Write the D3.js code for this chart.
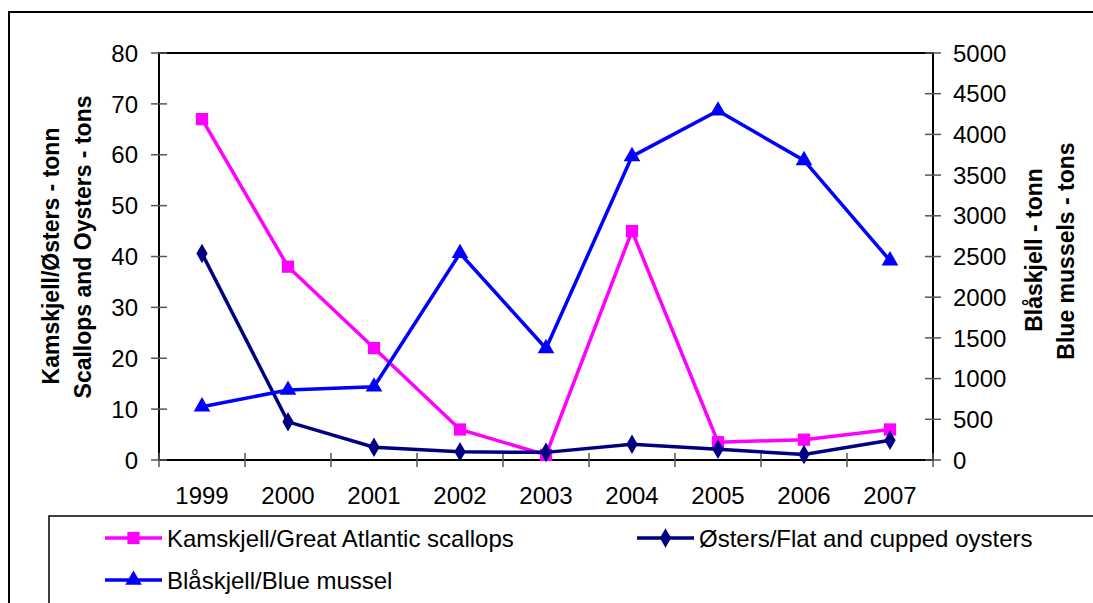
<!DOCTYPE html>
<html>
<head>
<meta charset="utf-8">
<script src="https://cdn.jsdelivr.net/npm/d3@7"></script>
<style>
  body { margin: 0; background: #fff; }
  text { font-family: "Liberation Sans", Arial, sans-serif; fill: #000; }
</style>
</head>
<body>
<div id="chart"></div>
<script>
const years = ['1999', '2000', '2001', '2002', '2003', '2004', '2005', '2006', '2007'];
const scallops = [67, 38, 22, 6, 1, 45, 3.5, 4, 6];
const oysters = [40.6, 7.5, 2.5, 1.6, 1.5, 3.1, 2.1, 1.1, 3.9];
const mussels = [655, 860, 900, 2540, 1370, 3730, 4290, 3680, 2450];
const leftTicks = [0, 10, 20, 30, 40, 50, 60, 70, 80];
const rightTicks = [0, 500, 1000, 1500, 2000, 2500, 3000, 3500, 4000, 4500, 5000];

const width = 1093, height = 603;
const plot = {left: 159, right: 933, top: 53, bottom: 460};

const svg = d3.select('#chart').append('svg')
  .attr('width', width)
  .attr('height', height);

// outer frame (only top and left edges fall inside the picture)
svg.append('path')
  .attr('d', 'M9,' + height + ' V12 H' + width)
  .attr('fill', 'none')
  .attr('stroke', '#000')
  .attr('stroke-width', 2);

const x = d3.scaleBand().domain(years).range([plot.left, plot.right]);
const yL = d3.scaleLinear().domain([0, 80]).range([plot.bottom, plot.top]);
const yR = d3.scaleLinear().domain([0, 5000]).range([plot.bottom, plot.top]);

// plot frame
svg.append('rect')
  .attr('x', plot.left).attr('y', plot.top)
  .attr('width', plot.right - plot.left).attr('height', plot.bottom - plot.top)
  .attr('fill', 'none').attr('stroke', '#000').attr('stroke-width', 2);

// left axis ticks and labels
const gl = svg.append('g');
gl.selectAll('line').data(leftTicks).join('line')
  .attr('x1', plot.left - 8).attr('x2', plot.left + 8)
  .attr('y1', d => yL(d)).attr('y2', d => yL(d))
  .attr('stroke', '#555').attr('stroke-width', 1.5);
gl.selectAll('text').data(leftTicks).join('text')
  .attr('x', 138).attr('y', d => yL(d)).attr('dy', '0.36em')
  .attr('text-anchor', 'end').attr('font-size', 24)
  .text(d => d);

// right axis ticks and labels
const gr = svg.append('g');
gr.selectAll('line').data(rightTicks).join('line')
  .attr('x1', plot.right - 8).attr('x2', plot.right + 8)
  .attr('y1', d => yR(d)).attr('y2', d => yR(d))
  .attr('stroke', '#555').attr('stroke-width', 1.5);
gr.selectAll('text').data(rightTicks).join('text')
  .attr('x', 953).attr('y', d => yR(d)).attr('dy', '0.36em')
  .attr('text-anchor', 'start').attr('font-size', 24)
  .text(d => d);

// x axis ticks at category boundaries and labels
const bounds = years.map(d => x(d)).concat([plot.right]);
svg.append('g').selectAll('line').data(bounds).join('line')
  .attr('x1', d => d).attr('x2', d => d)
  .attr('y1', plot.bottom - 7).attr('y2', plot.bottom + 7)
  .attr('stroke', '#555').attr('stroke-width', 1.5);
svg.append('g').selectAll('text').data(years).join('text')
  .attr('x', d => x(d) + x.bandwidth() / 2).attr('y', 504)
  .attr('text-anchor', 'middle').attr('font-size', 24)
  .text(d => d);

// axis titles
function vtitle(cx, cy, txt) {
  svg.append('text')
    .attr('transform', 'translate(' + cx + ',' + cy + ') rotate(-90)')
    .attr('text-anchor', 'middle').attr('dy', '0.35em')
    .attr('font-size', 23).attr('font-weight', 'bold')
    .text(txt);
}
vtitle(51, 256, 'Kamskjell/Østers - tonn');
vtitle(83, 247, 'Scallops and Oysters - tons');
vtitle(1034, 250, 'Blåskjell - tonn');
vtitle(1066, 251, 'Blue mussels - tons');

// series
const cx = d => x(d) + x.bandwidth() / 2;
const series = [
  {name: 'Kamskjell/Great Atlantic scallops', values: scallops, y: yL, color: '#ff00ff', sym: d3.symbolSquare, size: 150},
  {name: 'Østers/Flat and cupped oysters', values: oysters, y: yL, color: '#000080', sym: d3.symbolDiamond, size: 110},
  {name: 'Blåskjell/Blue mussel', values: mussels, y: yR, color: '#0000ff', sym: d3.symbolTriangle, size: 120}
];

series.forEach(s => {
  const line = d3.line().x((d, i) => cx(years[i])).y(d => s.y(d));
  svg.append('path')
    .datum(s.values)
    .attr('d', line)
    .attr('fill', 'none')
    .attr('stroke', s.color)
    .attr('stroke-width', 3.5);
  svg.append('g').selectAll('path').data(s.values).join('path')
    .attr('transform', (d, i) => 'translate(' + cx(years[i]) + ',' + s.y(d) + ')')
    .attr('d', d3.symbol().type(s.sym).size(s.size))
    .attr('fill', s.color);
});

// legend
svg.append('path')
  .attr('d', 'M' + width + ',516 H49 V' + height)
  .attr('fill', 'none').attr('stroke', '#000').attr('stroke-width', 1.5);

const legendPos = [[105, 538], [637, 538], [105, 580]];
series.forEach((s, i) => {
  const [lx, ly] = legendPos[i];
  const g = svg.append('g').attr('transform', 'translate(' + lx + ',' + ly + ')');
  g.append('line').attr('x1', 0).attr('x2', 57).attr('y1', 0).attr('y2', 0)
    .attr('stroke', s.color).attr('stroke-width', 3.5);
  g.append('path').attr('transform', 'translate(28.5,0)')
    .attr('d', d3.symbol().type(s.sym).size(s.size)).attr('fill', s.color);
  g.append('text').attr('x', 62).attr('y', 0).attr('dy', '0.36em')
    .attr('font-size', 24).text(s.name);
});
</script>
</body>
</html>
